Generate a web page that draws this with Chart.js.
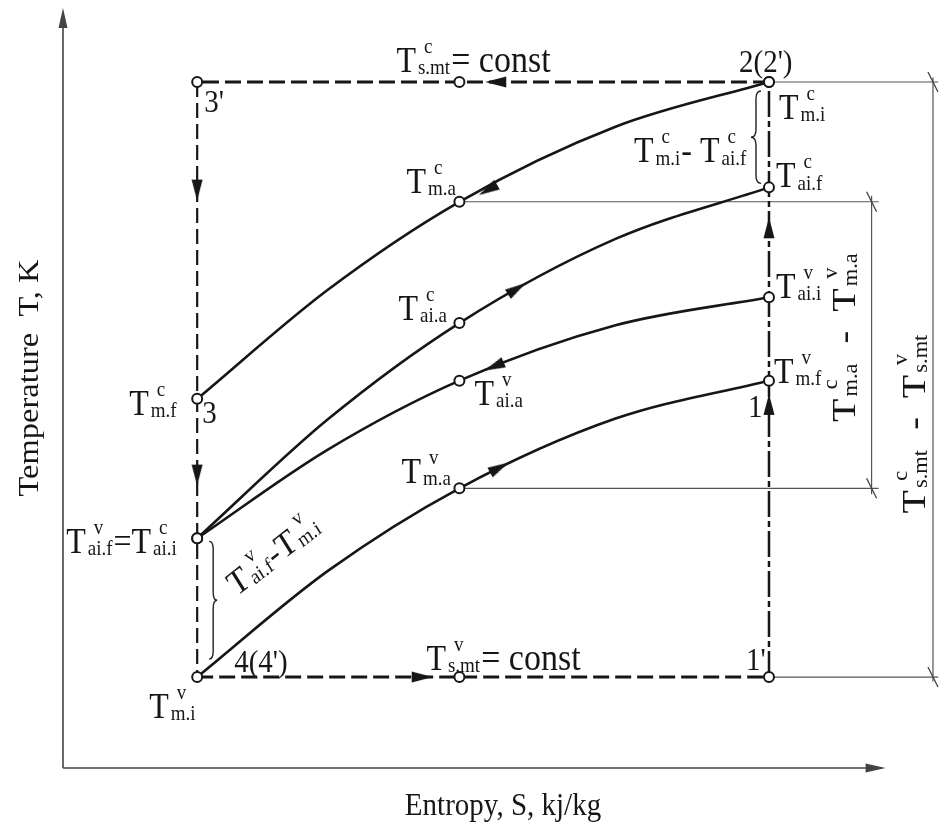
<!DOCTYPE html>
<html>
<head>
<meta charset="utf-8">
<title>T-S diagram</title>
<script src="https://cdn.jsdelivr.net/npm/chart.js@4.4.1/dist/chart.umd.min.js"></script>
<style>
  html, body { margin: 0; padding: 0; background: #fff; }
  #tsChart { display: block; }
</style>
</head>
<body>
<canvas id="tsChart" width="947" height="826"></canvas>
<script>
// Entropy (x) and temperature (y) in diagram units (0..100)

// cycle rectangle
const sLeft = 15.3, sMid = 45.2, sRight = 80.5;
const tTop = 90.5;      // T c s.mt = const
const tBottom = 12.0;   // T v s.mt = const

// process curves, all sampled at the same entropies
const curveS = [15.3, 30.2, 45.2, 63.0, 80.5];
const condMediumT = [48.7, 63.1, 74.7, 84.6, 90.5];
const condAirT = [30.3, 46.0, 58.7, 69.8, 76.6];
const evapAirT = [30.3, 42.0, 51.1, 58.4, 62.1];
const evapMediumT = [12.0, 26.0, 36.9, 46.1, 51.1];
// flow arrows on the curves; -1: process runs toward lower entropy
const curveArrowS = [48.5, 51.7, 49.2, 49.7];
const curveArrowT = [76.3, 63.2, 53.0, 39.6];
const curveFlow = [-1, 1, -1, 1];

// arrows on the straight legs of the cycle
const legArrowS = [49.4, 40.9, 15.3, 15.3, 80.5, 80.5];
const legArrowT = [90.5, 12.0, 76.3, 38.7, 71.2, 47.9];
const legArrowDir = ['left', 'right', 'down', 'down', 'up', 'up'];

// dimension lines
const dimOuterS = 99.2;
const dimInnerS = 92.2;
const axisEndS = 93.8;

const SERIF = '"Liberation Serif", "Times New Roman", serif';
const STRETCH = 1.12;
const INK = '#161616';

const curves = [condMediumT, condAirT, evapAirT, evapMediumT];
const MID = 2, END = curveS.length - 1;

function pts(xs, ys) {
    return xs.map((x, i) => ({ x, y: ys[i] }));
}

// hollow state points: curve ends and middles, rectangle corners
const statePoints = [
    { x: sLeft, y: tTop }, { x: sMid, y: tTop }, { x: sRight, y: tTop },
    { x: sMid, y: tBottom }, { x: sRight, y: tBottom }
];
curves.forEach(ys => {
    [0, MID, END].forEach(i => statePoints.push({ x: curveS[i], y: ys[i] }));
});

const dirVec = { left: [-1, 0], right: [1, 0], up: [0, 1], down: [0, -1] };
const arrowPoints = legArrowS.map((s, i) => ({
    x: s, y: legArrowT[i], dx: dirVec[legArrowDir[i]][0], dy: dirVec[legArrowDir[i]][1]
}));
curves.forEach((ys, k) => {
    // heading follows the chord around the middle of the curve
    arrowPoints.push({
        x: curveArrowS[k], y: curveArrowT[k],
        dx: curveFlow[k] * (curveS[MID + 1] - curveS[MID - 1]),
        dy: curveFlow[k] * (ys[MID + 1] - ys[MID - 1])
    });
});

// narrow filled arrowhead, tip pointing up
const arrowImg = document.createElement('canvas');
arrowImg.width = 12;
arrowImg.height = 24;
(function () {
    const c = arrowImg.getContext('2d');
    c.fillStyle = INK;
    c.beginPath();
    c.moveTo(6, 1);
    c.lineTo(11.5, 22);
    c.lineTo(0.5, 22);
    c.closePath();
    c.fill();
})();

function lineSet(data, width, dash, color, order) {
    return {
        data, showLine: true, borderColor: color || INK, borderWidth: width,
        borderDash: dash || [], pointRadius: 0, pointHoverRadius: 0,
        fill: false, clip: false, order: order || 3
    };
}

const datasets = [];
// cycle legs
datasets.push(lineSet([{ x: sRight, y: tTop }, { x: sLeft, y: tTop }], 3, [16, 6]));
datasets.push(lineSet([{ x: sLeft, y: tTop }, { x: sLeft, y: tBottom }], 2.2, [15, 6]));
datasets.push(lineSet([{ x: sLeft, y: tBottom }, { x: sRight, y: tBottom }], 3, [16, 6]));
datasets.push(lineSet([{ x: sRight, y: tBottom }, { x: sRight, y: tTop }], 2.5, [26, 4, 6, 4]));
// dimension lines
const dimColor = '#555';
const tMaC = condMediumT[MID], tMaV = evapMediumT[MID];
datasets.push(lineSet([{ x: sRight, y: tTop }, { x: 99.8, y: tTop }], 1.2, [], dimColor, 4));
datasets.push(lineSet([{ x: sRight, y: tBottom }, { x: 99.8, y: tBottom }], 1.2, [], dimColor, 4));
datasets.push(lineSet([{ x: dimOuterS, y: tTop + 0.6 }, { x: dimOuterS, y: tBottom - 0.6 }], 1.2, [], dimColor, 4));
datasets.push(lineSet([{ x: sMid, y: tMaC }, { x: dimInnerS + 0.8, y: tMaC }], 1.2, [], dimColor, 4));
datasets.push(lineSet([{ x: sMid, y: tMaV }, { x: dimInnerS + 0.8, y: tMaV }], 1.2, [], dimColor, 4));
datasets.push(lineSet([{ x: dimInnerS, y: tMaC + 0.8 }, { x: dimInnerS, y: tMaV - 0.8 }], 1.2, [], dimColor, 4));
// process curves
curves.forEach(ys => {
    const d = lineSet(pts(curveS, ys), 2.6, [], INK, 2);
    d.cubicInterpolationMode = 'monotone';
    datasets.push(d);
});
// arrows
datasets.push({
    data: arrowPoints, showLine: false, pointStyle: arrowImg, pointRadius: 6,
    pointHoverRadius: 6, clip: false, order: 1,
    rotation: (c) => {
        const p = c.raw;
        if (!p) return 0;
        const xs = c.chart.scales.x, ys = c.chart.scales.y;
        const px = xs.getPixelForValue(p.x + p.dx) - xs.getPixelForValue(p.x);
        const py = ys.getPixelForValue(p.y + p.dy) - ys.getPixelForValue(p.y);
        return Math.atan2(px, -py) * 180 / Math.PI;
    }
});
// state points
datasets.push({
    data: statePoints, showLine: false, pointStyle: 'circle', pointRadius: 5,
    pointHoverRadius: 5, pointBackgroundColor: '#fff', pointBorderColor: INK,
    pointBorderWidth: 2, clip: false, order: 0
});

// ---- text helpers ----
function sym(sup, sub) { return { sym: true, sup, sub }; }
function txt(text, size) { return { text, size }; }

function richText(ctx, parts, size, doDraw) {
    const small = Math.round(size * 0.6);
    let cx = 0;
    parts.forEach(p => {
        ctx.font = `${p.size || size}px ${SERIF}`;
        if (p.sym) {
            const tw = ctx.measureText('T').width;
            if (doDraw) ctx.fillText('T', cx, 0);
            ctx.font = `${small}px ${SERIF}`;
            const subW = ctx.measureText(p.sub).width + 2;
            const supW = ctx.measureText(p.sup).width + size * 0.25;
            if (doDraw) {
                ctx.fillText(p.sub, cx + tw + 2, size * 0.06);
                ctx.fillText(p.sup, cx + tw + size * 0.25, -size * 0.53);
            }
            cx += tw + Math.max(subW, supW) + 1;
        } else {
            if (doDraw) ctx.fillText(p.text, cx, 0);
            cx += ctx.measureText(p.text).width;
        }
    });
    return cx;
}

function drawLabel(ctx, x, y, parts, opt) {
    const o = Object.assign({ size: 32, angle: 0, center: false }, opt || {});
    ctx.save();
    ctx.translate(x, y);
    ctx.scale(1, STRETCH);
    if (o.angle) ctx.rotate(o.angle * Math.PI / 180);
    ctx.fillStyle = INK;
    ctx.textBaseline = 'alphabetic';
    ctx.textAlign = 'left';
    if (o.center) {
        const w = richText(ctx, parts, o.size, false);
        ctx.translate(-w / 2, 0);
    }
    richText(ctx, parts, o.size, true);
    ctx.restore();
}

// labels: anchored on a diagram point plus a pixel offset to the baseline start
const labels = [
    { s: sMid, t: tTop, dx: -63, dy: -10, parts: [sym('c', 's.mt'), txt('= const', 34)] },
    { s: sRight, t: tTop, dx: -30, dy: -10, parts: [txt("2(2')")], size: 29 },
    { s: sLeft, t: tTop, dx: 7, dy: 30, parts: [txt("3'")], size: 29 },
    { s: sRight, t: tTop, dx: 10, dy: 37, parts: [sym('c', 'm.i')] },
    { s: sRight, t: condAirT[END], dx: 7, dy: 0, parts: [sym('c', 'ai.f')] },
    { s: sRight, t: evapAirT[END], dx: 7, dy: 1, parts: [sym('v', 'ai.i')] },
    { s: sRight, t: evapMediumT[END], dx: 5, dy: 2, parts: [sym('v', 'm.f')] },
    { s: sRight, t: evapMediumT[END], dx: -21, dy: 36, parts: [txt('1')], size: 29 },
    { s: sRight, t: tBottom, dx: -23, dy: -7, parts: [txt("1'")], size: 29 },
    { s: sMid, t: condMediumT[MID], dx: -53, dy: -9, parts: [sym('c', 'm.a')] },
    { s: sMid, t: condAirT[MID], dx: -61, dy: -3, parts: [sym('c', 'ai.a')] },
    { s: sMid, t: evapAirT[MID], dx: 15, dy: 24, parts: [sym('v', 'ai.a')] },
    { s: sMid, t: evapMediumT[MID], dx: -58, dy: -5, parts: [sym('v', 'm.a')] },
    { s: sLeft, t: condMediumT[0], dx: -68, dy: 16, parts: [sym('c', 'm.f')] },
    { s: sLeft, t: condMediumT[0], dx: 5, dy: 24, parts: [txt('3')], size: 29 },
    { s: sLeft, t: condAirT[0], dx: -131, dy: 15, parts: [sym('v', 'ai.f'), txt('='), sym('c', 'ai.i')] },
    { s: sLeft, t: tBottom, dx: -48, dy: 41, parts: [sym('v', 'm.i')] },
    { s: sLeft, t: tBottom, dx: 37, dy: -5, parts: [txt("4(4')")], size: 29 },
    { s: sMid, t: tBottom, dx: -33, dy: -7, parts: [sym('v', 's.mt'), txt('= const', 34)] },
    { s: sRight, t: condAirT[END], dx: -135, dy: -25, parts: [sym('c', 'm.i'), txt('- '), sym('c', 'ai.f')] },
    { s: sLeft, t: tBottom, dx: 39, dy: -80, parts: [sym('v', 'ai.f'), txt('-'), sym('v', 'm.i')], angle: -35 },
    { s: dimInnerS, t: (tMaC + tMaV) / 2, dx: -17, dy: -8,
      parts: [sym('c', 'm.a'), txt('  -  '), sym('v', 'm.a')], angle: -90, center: true, size: 34 },
    { s: dimOuterS, t: (tTop + tBottom) / 2, dx: -8, dy: 44,
      parts: [sym('c', 's.mt'), txt('  -  '), sym('v', 's.mt')], angle: -90, center: true, size: 34 }
];

function brace(ctx, xEnd, y1, y2, w) {
    // w < 0: tip to the left
    const xs = xEnd + w / 2, xt = xEnd + w, ym = (y1 + y2) / 2, q = 8;
    ctx.beginPath();
    ctx.moveTo(xEnd, y1);
    ctx.quadraticCurveTo(xs, y1, xs, y1 + q);
    ctx.lineTo(xs, ym - q);
    ctx.quadraticCurveTo(xs, ym, xt, ym);
    ctx.quadraticCurveTo(xs, ym, xs, ym + q);
    ctx.lineTo(xs, y2 - q);
    ctx.quadraticCurveTo(xs, y2, xEnd, y2);
    ctx.stroke();
}

const decor = {
    id: 'decor',
    beforeDatasetsDraw(chart) {
        const { ctx, chartArea, scales } = chart;
        const x0 = chartArea.left, y0 = chartArea.bottom;
        const xEnd = scales.x.getPixelForValue(axisEndS);
        const yEnd = chartArea.top - 2;
        ctx.save();
        ctx.strokeStyle = '#444';
        ctx.fillStyle = '#444';
        ctx.lineWidth = 1.6;
        ctx.beginPath();
        ctx.moveTo(x0, y0);
        ctx.lineTo(x0, yEnd + 14);
        ctx.moveTo(x0, y0);
        ctx.lineTo(xEnd - 14, y0);
        ctx.stroke();
        ctx.beginPath();
        ctx.moveTo(x0, yEnd);
        ctx.lineTo(x0 + 4.5, yEnd + 20);
        ctx.lineTo(x0 - 4.5, yEnd + 20);
        ctx.closePath();
        ctx.fill();
        ctx.beginPath();
        ctx.moveTo(xEnd, y0);
        ctx.lineTo(xEnd - 20, y0 - 4.5);
        ctx.lineTo(xEnd - 20, y0 + 4.5);
        ctx.closePath();
        ctx.fill();
        ctx.restore();
    },
    afterDatasetsDraw(chart) {
        const { ctx, scales } = chart;
        const X = v => scales.x.getPixelForValue(v);
        const Y = v => scales.y.getPixelForValue(v);
        ctx.save();
        // dimension ticks
        ctx.strokeStyle = '#444';
        ctx.lineWidth = 1.3;
        [[dimOuterS, tTop], [dimOuterS, tBottom],
         [dimInnerS, tMaC], [dimInnerS, tMaV]].forEach(([s, t]) => {
            const px = X(s), py = Y(t);
            ctx.beginPath();
            ctx.moveTo(px - 5, py - 10);
            ctx.lineTo(px + 5, py + 10);
            ctx.stroke();
        });
        // braces
        ctx.strokeStyle = '#222';
        ctx.lineWidth = 1.4;
        brace(ctx, X(sRight) - 8, Y(tTop) + 9, Y(condAirT[END]) - 4, -10);
        brace(ctx, X(sLeft) + 12, Y(condAirT[0]) + 3, Y(tBottom) - 18, 8);
        // labels
        labels.forEach(l => {
            drawLabel(ctx, X(l.s) + l.dx, Y(l.t) + l.dy, l.parts,
                { size: l.size || 32, angle: l.angle || 0, center: !!l.center });
        });
        // axis titles
        drawLabel(ctx, chart.chartArea.left - 25, 378, [txt('Temperature  T, K')],
            { size: 29, angle: -90, center: true });
        drawLabel(ctx, 503, 815, [txt('Entropy, S, kj/kg')], { size: 29, center: true });
        ctx.restore();
    }
};

new Chart(document.getElementById('tsChart'), {
    type: 'scatter',
    data: { datasets },
    options: {
        responsive: false,
        animation: false,
        events: [],
        layout: { padding: { left: 63, right: 0, top: 10, bottom: 58 } },
        scales: {
            x: { type: 'linear', min: 0, max: 100, display: false },
            y: { type: 'linear', min: 0, max: 100, display: false }
        },
        plugins: {
            legend: { display: false },
            tooltip: { enabled: false }
        }
    },
    plugins: [decor]
});
</script>
</body>
</html>
